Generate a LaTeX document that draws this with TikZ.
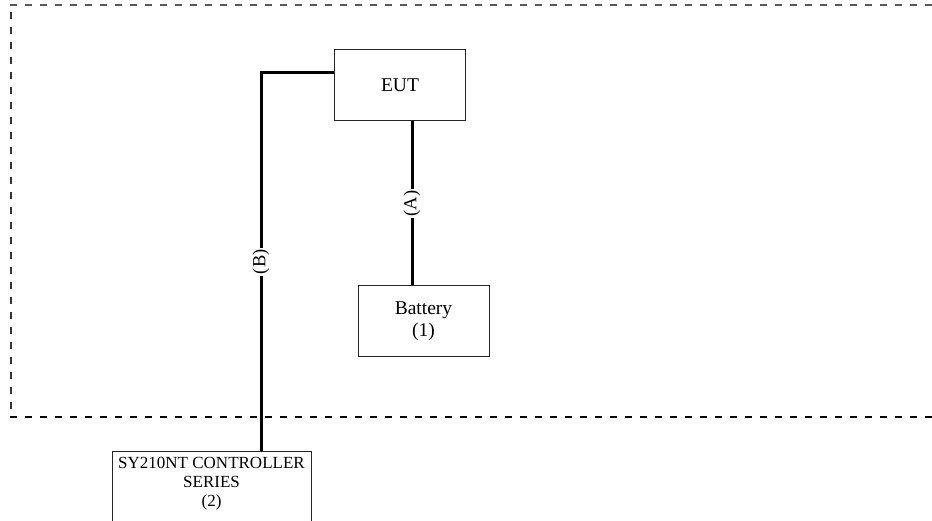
\documentclass[tikz,border=0pt]{standalone}
\usepackage{fontspec}
\setmainfont{Liberation Serif}
\usetikzlibrary{calc}
\begin{document}
\begin{tikzpicture}[x=1pt,y=-1pt,
  box/.style={draw=black!85,line width=1pt,inner sep=0pt,align=center,
    font=\fontsize{19.5}{22}\selectfont},
  wire/.style={line width=3pt,black},
  lbl/.style={fill=white,inner sep=1.5pt,rotate=90,font=\fontsize{18.5}{20}\selectfont},
  bound/.style={line width=1.1pt,dash pattern=on 7pt off 8pt}]
\useasboundingbox (0,0) rectangle (932,521);
\clip (0,0) rectangle (932,521);
% dashed test-area boundary
\coordinate (tl) at (10,5);
\coordinate (tr) at (932,5);
\coordinate (bl) at (10,417);
\coordinate (br) at (932,417);
\draw[bound,black!65] (tl) -- (tr);
\draw[bound,black!80] ([xshift=1pt,yshift=-7pt]tl) -- ([xshift=1pt]bl);
\draw[bound,black] (bl) -- (br);
% nodes
\node[box,minimum width=131,minimum height=71] (EUT) at (400,85.5) {EUT};
\node[box,minimum width=131,minimum height=71] (bat) at (423.5,321.5) {Battery\\(1)};
\node[draw=black!85,line width=1pt,minimum width=199,minimum height=140,inner sep=0pt,anchor=north] (ctl) at (211.5,451) {};
\node[align=center,anchor=north,inner sep=0pt,font=\fontsize{17}{19}\selectfont] (ctltext) at (211.5,457) {SY210NT CONTROLLER\\SERIES\\(2)};
% connectors
\draw[wire] ([xshift=12pt]EUT.south) -- ([xshift=12pt]EUT.south |- bat.north)
  node[lbl,midway] {(A)};
\draw[wire] ([yshift=-23pt]EUT.north west) -| ([xshift=49.5pt]ctl.north)
  node[lbl,pos=0.75] {(B)};
\end{tikzpicture}
\end{document}
